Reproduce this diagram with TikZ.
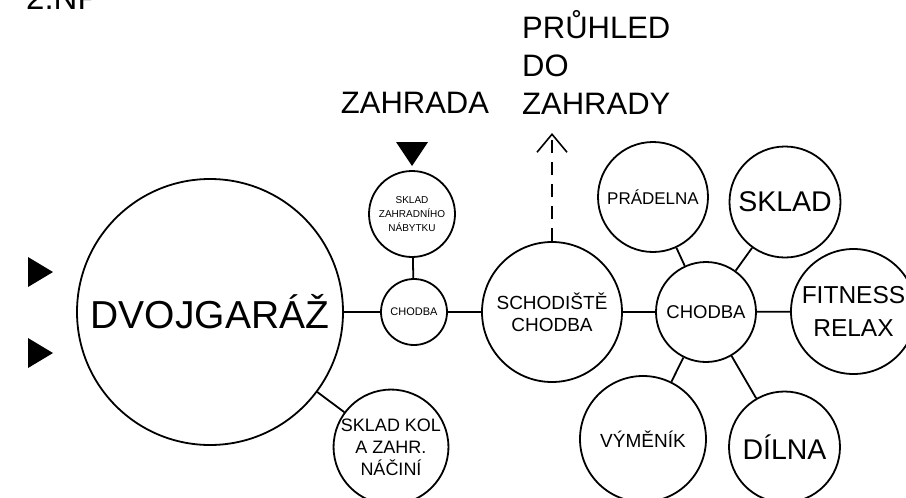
\documentclass[tikz,border=0pt]{standalone}
\usepackage{fontspec}
\setmainfont{Liberation Sans}
\usetikzlibrary{arrows.meta}
\begin{document}
\begin{tikzpicture}[x=1pt,y=-1pt,
  room/.style={draw=black,circle,line width=1.8pt,inner sep=0pt,align=center,fill=white},
  link/.style={line width=1.8pt}]
\useasboundingbox (0,0) rectangle (906,498);
\fill[white] (0,0) rectangle (906,498);
% title (cut off at top)
\node[anchor=base west,inner sep=0pt,font=\fontsize{33}{33}\selectfont] (title) at (26,9) {2.NP};
% rooms
\node[room,minimum size=266pt,font=\fontsize{39}{39}\selectfont] (garaz) at (210,312) {DVOJGARÁŽ};
\node[room,minimum size=66pt,font=\fontsize{11}{11}\selectfont] (ch1) at (414,312) {CHODBA};
\node[room,minimum size=86pt,font=\fontsize{10}{14}\selectfont] (nab) at (412,214) {SKLAD\\ZAHRADNÍHO\\NÁBYTKU};
\node[room,minimum size=112pt,font=\fontsize{18}{22}\selectfont] (kol) at (391,447) {SKLAD KOL\\A ZAHR.\\NÁČINÍ};
\node[room,minimum size=140pt,font=\fontsize{19}{22}\selectfont] (schod) at (552,312) {SCHODIŠTĚ\\CHODBA};
\node[room,minimum size=100pt,font=\fontsize{18.5}{18.5}\selectfont] (ch2) at (706,312) {CHODBA};
\node[room,minimum size=110pt,font=\fontsize{17}{17}\selectfont] (prad) at (653,197) {PRÁDELNA};
\node[room,minimum size=111pt,font=\fontsize{28.5}{28.5}\selectfont] (sklad) at (785,202) {SKLAD};
\node[room,minimum size=125pt,font=\fontsize{24.5}{33}\selectfont] (fit) at (853.5,311.5) {FITNESS\\RELAX};
\node[room,minimum size=126pt,font=\fontsize{19}{19}\selectfont] (vym) at (643,439) {VÝMĚNÍK};
\node[room,minimum size=111pt,font=\fontsize{28.5}{28.5}\selectfont] (dil) at (784.5,447) {DÍLNA};
% connectors
\draw[link] (garaz) -- (ch1);
\draw[link] (ch1) -- (nab);
\draw[link] (ch1) -- (schod);
\draw[link] (schod) -- (ch2);
\draw[link] (garaz) -- (kol);
\draw[link] (ch2) -- (prad);
\draw[link] (ch2) -- (sklad);
\draw[link] (ch2) -- (fit);
\draw[link] (ch2) -- (vym);
\draw[link] (ch2) -- (dil);
% view to garden
\coordinate (view) at (552,133);
\draw[line width=1.6pt,dash pattern=on 13pt off 9pt,-{Straight Barb[length=18pt,width=30pt,line width=1.6pt]}] (schod.north) -- (view);
% labels
\node[anchor=base,inner sep=0pt,font=\fontsize{31}{31}\selectfont] (zahrada) at (415,113) {ZAHRADA};
\node[anchor=base west,inner sep=0pt,align=left,font=\fontsize{31}{38}\selectfont] (pruhled) at (522,114) {PRŮHLED\\DO\\ZAHRADY};
% entrances
\fill (396,142) -- (428,142) -- (412,166) -- cycle;
\fill (28,257) -- (53,272) -- (28,287) -- cycle;
\fill (28,338) -- (53,353) -- (28,368) -- cycle;
\end{tikzpicture}
\end{document}
